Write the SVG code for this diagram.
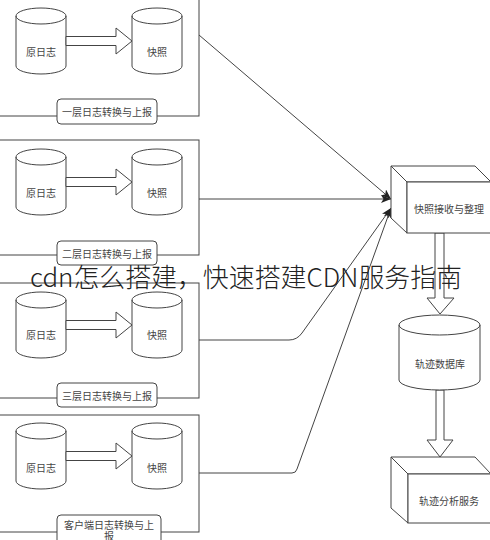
<svg xmlns="http://www.w3.org/2000/svg" width="490" height="540" viewBox="0 0 490 540">
<defs>
<style>
.frame{fill:none;stroke:#444;stroke-width:1}
.shape{fill:#fff;stroke:#444;stroke-width:1}
.conn{fill:none;stroke:#444;stroke-width:1}
.t{font-family:"Noto Sans CJK SC","Noto Sans",sans-serif;font-size:10px;fill:#444;text-anchor:middle;dominant-baseline:central}
.wm{font-family:"Noto Sans CJK SC","Noto Sans",sans-serif;font-size:26px;font-weight:300;fill:#222}
</style>
<marker id="arr" markerUnits="userSpaceOnUse" markerWidth="10" markerHeight="8" refX="10" refY="4" orient="auto">
<path d="M0,0 L10,4 L0,8 L2.5,4 Z" fill="#222"/>
</marker>
</defs>
<rect width="490" height="540" fill="#fff"/>

<g id="group1">
<rect class="frame" x="-5" y="-20" width="204" height="136"/>
<path class="shape" d="M16,16 A25,8 0 0 1 66,16 V66 A25,8 0 0 1 16,66 Z M16,16 A25,8 0 0 0 66,16"/>
<text class="t" x="41" y="51">原日志</text>
<path class="shape" d="M132,16 A25,8 0 0 1 182,16 V66 A25,8 0 0 1 132,66 Z M132,16 A25,8 0 0 0 182,16"/>
<text class="t" x="157" y="51">快照</text>
<polygon class="shape" points="66,36.5 116,36.5 116,28 132,41 116,54 116,45.5 66,45.5"/>
<rect class="shape" x="57" y="99" width="100" height="25" rx="4"/>
<text class="t" x="107" y="111.5">一层日志转换与上报</text>
</g>

<g id="group2">
<rect class="frame" x="-5" y="140" width="204" height="115"/>
<path class="shape" d="M16,157 A25,8 0 0 1 66,157 V207 A25,8 0 0 1 16,207 Z M16,157 A25,8 0 0 0 66,157"/>
<text class="t" x="41" y="192">原日志</text>
<path class="shape" d="M132,157 A25,8 0 0 1 182,157 V207 A25,8 0 0 1 132,207 Z M132,157 A25,8 0 0 0 182,157"/>
<text class="t" x="157" y="192">快照</text>
<polygon class="shape" points="66,177.5 116,177.5 116,169 132,182 116,195 116,186.5 66,186.5"/>
<rect class="shape" x="57" y="241" width="100" height="24" rx="4"/>
<text class="t" x="107" y="253">二层日志转换与上报</text>
</g>

<g id="group3">
<rect class="frame" x="-5" y="283" width="204" height="115"/>
<path class="shape" d="M16,300 A25,8 0 0 1 66,300 V350 A25,8 0 0 1 16,350 Z M16,300 A25,8 0 0 0 66,300"/>
<text class="t" x="41" y="334">原日志</text>
<path class="shape" d="M132,300 A25,8 0 0 1 182,300 V350 A25,8 0 0 1 132,350 Z M132,300 A25,8 0 0 0 182,300"/>
<text class="t" x="157" y="334">快照</text>
<polygon class="shape" points="66,320.5 116,320.5 116,312 132,325 116,338 116,329.5 66,329.5"/>
<rect class="shape" x="57" y="383" width="100" height="24" rx="4"/>
<text class="t" x="107" y="395">三层日志转换与上报</text>
</g>

<g id="group4">
<rect class="frame" x="-5" y="415" width="204" height="117"/>
<path class="shape" d="M16,431 A25,8 0 0 1 66,431 V481 A25,8 0 0 1 16,481 Z M16,431 A25,8 0 0 0 66,431"/>
<text class="t" x="41" y="467">原日志</text>
<path class="shape" d="M132,431 A25,8 0 0 1 182,431 V481 A25,8 0 0 1 132,481 Z M132,431 A25,8 0 0 0 182,431"/>
<text class="t" x="157" y="467">快照</text>
<polygon class="shape" points="66,451.5 116,451.5 116,443 132,456 116,469 116,460.5 66,460.5"/>
<rect class="shape" x="57" y="515" width="104" height="34" rx="4"/>
<text class="t" x="109" y="524">客户端日志转换与上</text>
<text class="t" x="109" y="535">报</text>
</g>

<g id="connectors">
<path class="conn" d="M199,35 L391,199" marker-end="url(#arr)"/>
<path class="conn" d="M199,199 L391,199" marker-end="url(#arr)"/>
<path class="conn" d="M199,340 H289 Q297,340 302,333 L391,208" marker-end="url(#arr)"/>
<path class="conn" d="M199,473 H292 Q296,473 297,469 L391,208" marker-end="url(#arr)"/>
<polygon class="shape" points="435,233 444,233 444,298 454,298 440,314 427,298 435,298"/>
<polygon class="shape" points="436,390 444,390 444,440 453,440 440,457 427,440 436,440"/>
</g>

<g id="receiver">
<path class="shape" d="M391,166 L475,166 L491,182 L407,182 Z"/>
<path class="shape" d="M391,166 L407,182 L407,233 L391,218 Z"/>
<rect class="shape" x="407" y="182" width="84" height="51"/>
<text class="t" x="449" y="208">快照接收与整理</text>
</g>

<g id="database">
<path class="shape" d="M399,325 A40.5,10 0 0 1 480,325 V380 A40.5,10 0 0 1 399,380 Z M399,325 A40.5,10 0 0 0 480,325"/>
<text class="t" x="440" y="363">轨迹数据库</text>
</g>

<g id="analysis">
<path class="shape" d="M391,457 L475,457 L491,474 L408,474 Z"/>
<path class="shape" d="M391,457 L408,474 L408,523 L391,508 Z"/>
<rect class="shape" x="408" y="474" width="83" height="49"/>
<text class="t" x="449" y="500">轨迹分析服务</text>
</g>

<text class="wm" x="30" y="287" textLength="432" lengthAdjust="spacingAndGlyphs">cdn怎么搭建，快速搭建CDN服务指南</text>
</svg>
